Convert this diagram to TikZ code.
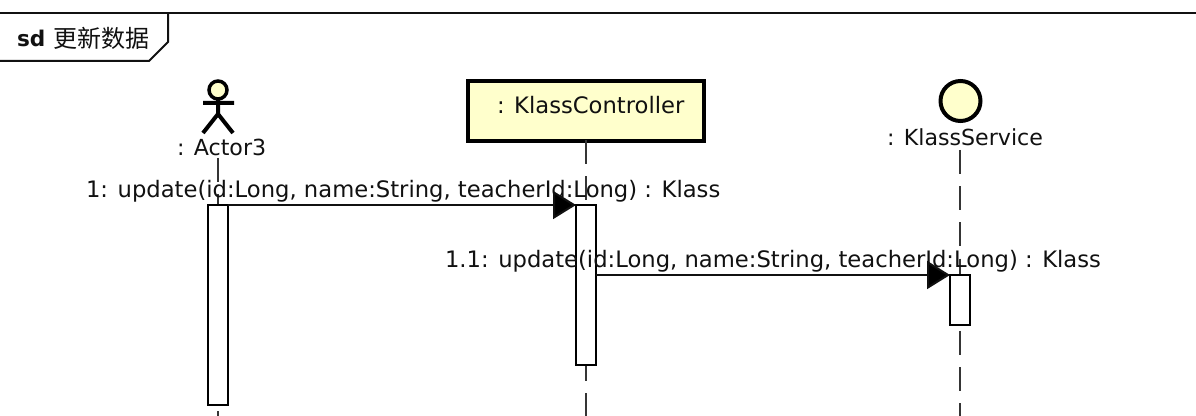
\documentclass[tikz,border=0pt]{standalone}
\usepackage{fontspec}
\setmainfont{DejaVu Sans}
\newfontfamily\cjkfont{Noto Sans CJK SC}
\usetikzlibrary{arrows.meta}
\definecolor{umlfill}{HTML}{FFFFCC}
\definecolor{umlink}{HTML}{111111}
\tikzset{
  x=0.75pt,y=-0.75pt,
  label text/.style={inner sep=0pt,outer sep=0pt,text=umlink,font=\fontsize{17pt}{20pt}\selectfont,anchor=base west},
  short label/.style={label text,font=\fontsize{16.6pt}{20pt}\selectfont},
  lifeline/.style={draw=umlink!85,line width=1.5pt,dash pattern=on 18pt off 9.13pt},
  activation/.style={draw=black,fill=white,line width=1.9pt,minimum width=15pt,inner sep=0pt,outer sep=0pt,anchor=north},
  message/.style={draw=umlink,line width=1.5pt,-{Triangle[length=17.25pt,width=21pt,fill=black]}},
  frameline/.style={draw=umlink,line width=1.5pt},
  actorline/.style={draw=black,line width=3pt},
}
\begin{document}
\begin{tikzpicture}
\useasboundingbox (0,0) rectangle (1196,416);
\fill[white] (0,0) rectangle (1196,416);
% frame
\coordinate (fl) at (0,13); \coordinate (fr) at (1196,13);
\coordinate (tabbl) at (0,61);
\draw[frameline] (fl) -- (fr);
\draw[frameline] (168,13) -- (168,42) -- (149,61) -- (tabbl);
\node[label text,font=\fontsize{16.2pt}{20pt}\selectfont] (sd) at (17,47) {\textbf{sd}};
\node[label text,font=\fontsize{18pt}{20pt}\selectfont\cjkfont] (sdname) at (53,47.5) {更新数据};
% participants
\node[draw=black,fill=umlfill,line width=3pt,minimum width=177pt,minimum height=45pt,inner sep=0pt,outer sep=0pt] (ctrl) at (586,111) {};
\node[label text] (ctrllab) at (497,114) {: KlassController};
\node[circle,draw=black,fill=umlfill,line width=3pt,minimum size=30pt,inner sep=0pt,outer sep=0pt] (svc) at (960.5,101) {};
\node[short label] (svclab) at (887,146) {: KlassService};
\node[short label] (actlab) at (177,156) {: Actor3};
\node[circle,draw=black,fill=umlfill,line width=2.6pt,minimum size=13.5pt,inner sep=0pt,outer sep=0pt] (head) at (218,90) {};
\coordinate (neck) at (218,114);
\coordinate (arml) at (203,103); \coordinate (armr) at (234,103);
\coordinate (legl) at (203,133); \coordinate (legr) at (233,133);
\draw[actorline] (head.south) -- (neck) (arml) -- (armr) (legl) -- (neck) -- (legr);
% lifelines
\coordinate (l1s) at (218,158); \coordinate (l1e) at (218,416);
\coordinate (l2s) at (586,140); \coordinate (l2e) at (586,416);
\coordinate (l3s) at (960,150); \coordinate (l3e) at (960,416);
\draw[lifeline] (l1s) -- (l1e);
\draw[lifeline] (l2s) -- (l2e);
\draw[lifeline] (l3s) -- (l3e);
% activations
\node[activation,minimum height=150pt] (a1) at (218,205) {};
\node[activation,minimum height=120pt] (a2) at (586,205) {};
\node[activation,minimum height=37.5pt] (a3) at (960,275) {};
% message labels (printed across the activation bars)
\node[label text] (m1) at (86,198) {1: update(id:Long, name:String, teacherId:Long) : Klass};
\node[label text] (m2) at (445,268) {1.1: update(id:Long, name:String, teacherId:Long) : Klass};
% messages
\draw[message] (a1.north east) -- (a2.north west);
\draw[message] (a2.east |- a3.north) -- (a3.north west);
\end{tikzpicture}
\end{document}
